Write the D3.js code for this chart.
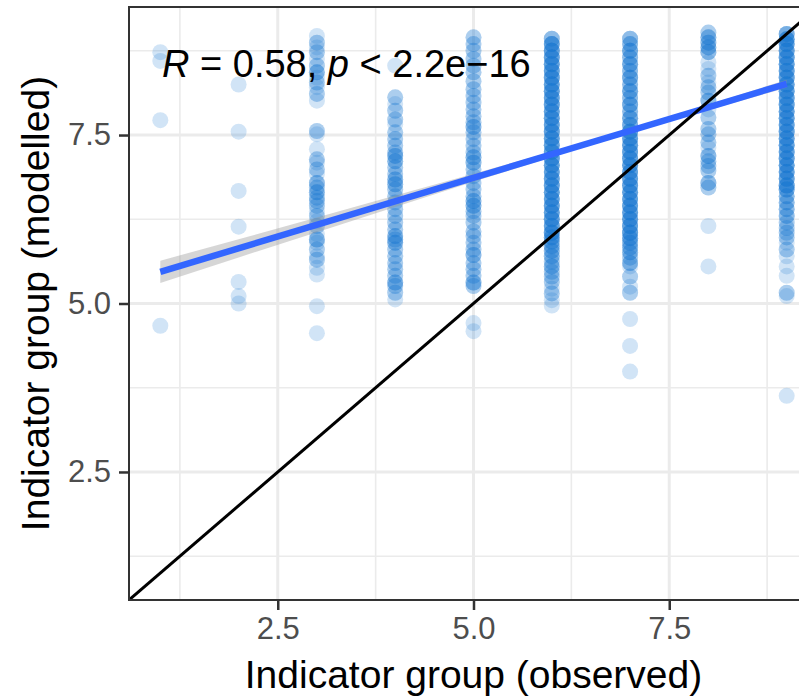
<!DOCTYPE html>
<html>
<head>
<meta charset="utf-8">
<script src="https://cdn.jsdelivr.net/npm/d3@7/dist/d3.min.js"></script>
<style>
  body { margin: 0; background: #fff; }
  text { font-family: "Liberation Sans", Arial, sans-serif; }
</style>
</head>
<body>
<svg id="chart"></svg>
<script>
// observed groups (x) and modelled values per group as [value, how many points]
const groups = [1, 2, 3, 4, 5, 6, 7, 8, 9];

const m1 = [[8.73,1],[8.6,1],[7.72,1],[4.67,1]];
const m2 = [[8.25,1],[7.55,1],[6.67,1],[6.14,1],[5.32,1],[5.11,1],[5.0,1]];
const m3 = [[8.97,1],[8.87,2],[8.8,1],[8.73,2],[8.63,1],[8.53,2],[8.43,3],[8.35,1],[8.28,2],[8.21,1],
            [8.11,2],[8.01,1],[7.56,2],[7.51,1],[7.29,1],[7.14,2],[7.09,1],[6.99,2],[6.92,1],[6.79,3],
            [6.72,2],[6.65,3],[6.57,2],[6.52,2],[6.45,2],[6.37,1],[6.3,2],[6.22,1],[6.15,2],[6.03,1],
            [5.95,3],[5.9,1],[5.8,2],[5.7,1],[5.65,2],[5.53,1],[5.43,1],[4.96,1],[4.56,1]];
const m4 = [[8.53,1],[8.06,2],[7.96,1],[7.86,2],[7.73,2],[7.66,1],[7.54,2],[7.44,2],[7.34,2],[7.24,2],
            [7.19,3],[7.11,3],[7.02,2],[6.92,2],[6.84,3],[6.77,3],[6.69,2],[6.59,2],[6.5,2],[6.4,2],
            [6.3,2],[6.2,2],[6.1,2],[6.0,3],[5.95,2],[5.9,3],[5.8,2],[5.7,2],[5.6,2],[5.51,2],
            [5.41,2],[5.31,3],[5.26,2],[5.16,2],[5.06,1]];
const m5 = [[8.95,2],[8.85,2],[8.75,2],[8.63,2],[8.53,2],[8.43,2],[8.3,2],[8.18,2],[8.08,2],[7.98,2],
            [7.88,2],[7.78,2],[7.69,2],[7.62,3],[7.54,2],[7.44,2],[7.34,2],[7.24,2],[7.17,3],[7.09,3],
            [6.99,2],[6.89,2],[6.79,2],[6.69,2],[6.59,2],[6.52,3],[6.45,3],[6.37,2],[6.3,2],[6.2,2],
            [6.07,2],[6.0,2],[5.9,2],[5.8,2],[5.72,3],[5.6,2],[5.51,2],[5.41,2],[5.31,3],[5.26,2],
            [4.71,1],[4.59,1]];
const m6 = [[8.93,3],[8.85,5],[8.75,5],[8.65,5],[8.55,5],[8.45,5],[8.35,5],[8.25,5],[8.15,5],[8.05,5],
            [7.95,5],[7.85,5],[7.75,5],[7.65,5],[7.55,5],[7.45,5],[7.35,5],[7.25,5],[7.15,5],[7.05,5],
            [6.95,5],[6.85,5],[6.75,5],[6.65,5],[6.55,5],[6.45,5],[6.35,5],[6.25,5],[6.15,5],[6.05,5],
            [5.98,4],[5.92,3],[5.85,3],[5.78,3],[5.7,3],[5.62,2],[5.55,3],[5.47,2],[5.4,2],[5.32,2],
            [5.22,1],[5.15,2],[5.05,1],[4.97,1]];
const m7 = [[8.93,3],[8.85,3],[8.75,4],[8.65,3],[8.55,4],[8.45,3],[8.35,4],[8.25,3],[8.15,4],[8.05,3],
            [7.95,4],[7.85,3],[7.75,4],[7.65,4],[7.55,5],[7.45,5],[7.35,5],[7.25,5],[7.15,5],[7.05,5],
            [6.95,5],[6.85,5],[6.75,5],[6.65,5],[6.55,5],[6.45,5],[6.35,5],[6.25,5],[6.15,5],[6.05,5],
            [5.97,4],[5.9,3],[5.83,3],[5.76,3],[5.68,2],[5.6,3],[5.55,1],[5.4,2],[5.25,1],[5.16,2],
            [4.77,1],[4.37,1],[3.99,1]];
const m8 = [[9.02,2],[8.95,3],[8.87,3],[8.8,3],[8.73,3],[8.58,1],[8.48,1],[8.38,2],[8.28,1],[8.21,2],
            [8.13,2],[8.01,3],[7.88,1],[7.76,2],[7.59,2],[7.51,2],[7.39,2],[7.31,1],[7.19,3],[7.11,2],
            [7.04,2],[6.97,2],[6.79,3],[6.72,2],[6.15,1],[5.55,1]];
const m9 = [[9.0,4],[8.92,5],[8.85,5],[8.75,5],[8.65,5],[8.55,5],[8.45,5],[8.35,5],[8.25,5],[8.15,5],
            [8.05,5],[7.95,5],[7.85,5],[7.75,5],[7.65,5],[7.55,5],[7.45,5],[7.35,5],[7.25,5],[7.15,5],
            [7.05,5],[6.95,5],[6.85,5],[6.75,5],[6.69,4],[6.59,3],[6.5,3],[6.4,3],[6.3,3],[6.2,2],
            [6.12,2],[6.05,2],[5.98,2],[5.9,1],[5.8,2],[5.7,1],[5.55,1],[5.41,1],[5.16,2],[5.11,1],
            [3.63,1]];
const modelled = [m1, m2, m3, m4, m5, m6, m7, m8, m9];

const fitX = [1, 9];
const fitY = [5.47, 8.26];
const bandHalf = [0.165, 0.135, 0.11, 0.085, 0.06, 0.04, 0.03, 0.04, 0.06];

const majorTicks = [2.5, 5.0, 7.5];
const minorTicks = [1.25, 3.75, 6.25, 8.75];
const axisDomain = [0.6, 9.4];

const W = 799, H = 697;
const panel = {left: 129, top: 7, right: 818, bottom: 600};

var svg = d3.select("#chart")
    .attr("width", W)
    .attr("height", H);

var x = d3.scaleLinear().domain(axisDomain).range([panel.left, panel.right]);
var y = d3.scaleLinear().domain(axisDomain).range([panel.bottom, panel.top]);

svg.append("defs").append("clipPath").attr("id", "clip")
    .append("rect")
    .attr("x", panel.left).attr("y", panel.top)
    .attr("width", panel.right - panel.left)
    .attr("height", panel.bottom - panel.top);

/* grid */
var grid = svg.append("g");
function gridLines(vals, w) {
    grid.selectAll(null).data(vals).enter().append("line")
        .attr("x1", d => x(d)).attr("x2", d => x(d))
        .attr("y1", panel.top).attr("y2", panel.bottom)
        .attr("stroke", "#EBEBEB").attr("stroke-width", w);
    grid.selectAll(null).data(vals).enter().append("line")
        .attr("y1", d => y(d)).attr("y2", d => y(d))
        .attr("x1", panel.left).attr("x2", panel.right)
        .attr("stroke", "#EBEBEB").attr("stroke-width", w);
}
gridLines(minorTicks, 1.6);
gridLines(majorTicks, 3);

var plot = svg.append("g").attr("clip-path", "url(#clip)");

/* points */
var points = [];
groups.forEach(function (g, i) {
    modelled[i].forEach(function (p) {
        for (var k = 0; k < p[1]; k++) points.push({obs: g, mod: p[0]});
    });
});

plot.append("g").selectAll("circle")
    .data(points)
    .enter().append("circle")
    .attr("cx", d => x(d.obs))
    .attr("cy", d => y(d.mod))
    .attr("r", 8)
    .attr("fill", "#1976D2")
    .attr("fill-opacity", 0.2);

/* smooth: band + line */
var slope = (fitY[1] - fitY[0]) / (fitX[1] - fitX[0]);
function fit(v) { return fitY[0] + (v - fitX[0]) * slope; }

var band = d3.area()
    .x((d, i) => x(groups[i]))
    .y0((d, i) => y(fit(groups[i]) - d))
    .y1((d, i) => y(fit(groups[i]) + d));

plot.append("path")
    .datum(bandHalf)
    .attr("d", band)
    .attr("fill", "#999999")
    .attr("fill-opacity", 0.4);

plot.append("line")
    .attr("x1", x(fitX[0])).attr("y1", y(fitY[0]))
    .attr("x2", x(fitX[1])).attr("y2", y(fitY[1]))
    .attr("stroke", "#3366FF")
    .attr("stroke-width", 6.5);

/* identity line */
plot.append("line")
    .attr("x1", x(axisDomain[0])).attr("y1", y(axisDomain[0]))
    .attr("x2", x(axisDomain[1])).attr("y2", y(axisDomain[1]))
    .attr("stroke", "#000")
    .attr("stroke-width", 3);

/* correlation label */
var lab = svg.append("text")
    .attr("x", 162).attr("y", 77)
    .attr("font-size", 38)
    .attr("fill", "#000");
lab.append("tspan").attr("font-style", "italic").text("R");
lab.append("tspan").text(" = 0.58, ");
lab.append("tspan").attr("font-style", "italic").text("p");
lab.append("tspan").text(" < 2.2e\u221216");

/* panel border */
svg.append("rect")
    .attr("x", panel.left).attr("y", panel.top)
    .attr("width", panel.right - panel.left)
    .attr("height", panel.bottom - panel.top)
    .attr("fill", "none")
    .attr("stroke", "#333333")
    .attr("stroke-width", 2);

/* axes */
var xAxis = svg.append("g")
    .attr("transform", "translate(0," + panel.bottom + ")")
    .call(d3.axisBottom(x).tickValues(majorTicks).tickFormat(d3.format(".1f")).tickSize(10).tickPadding(7));
var yAxis = svg.append("g")
    .attr("transform", "translate(" + panel.left + ",0)")
    .call(d3.axisLeft(y).tickValues(majorTicks).tickFormat(d3.format(".1f")).tickSize(10).tickPadding(8));

[xAxis, yAxis].forEach(function (a) {
    a.select(".domain").remove();
    a.selectAll(".tick line").attr("stroke", "#333333").attr("stroke-width", 2.5);
    a.selectAll(".tick text")
        .attr("fill", "#4D4D4D")
        .attr("font-size", 31)
        .attr("font-family", "'Liberation Sans', Arial, sans-serif");
});

/* axis titles */
svg.append("text")
    .attr("x", (panel.left + panel.right) / 2)
    .attr("y", 688)
    .attr("text-anchor", "middle")
    .attr("font-size", 39)
    .text("Indicator group (observed)");

svg.append("text")
    .attr("transform", "translate(49," + (panel.top + panel.bottom) / 2 + ") rotate(-90)")
    .attr("text-anchor", "middle")
    .attr("font-size", 39)
    .text("Indicator group (modelled)");
</script>
</body>
</html>
